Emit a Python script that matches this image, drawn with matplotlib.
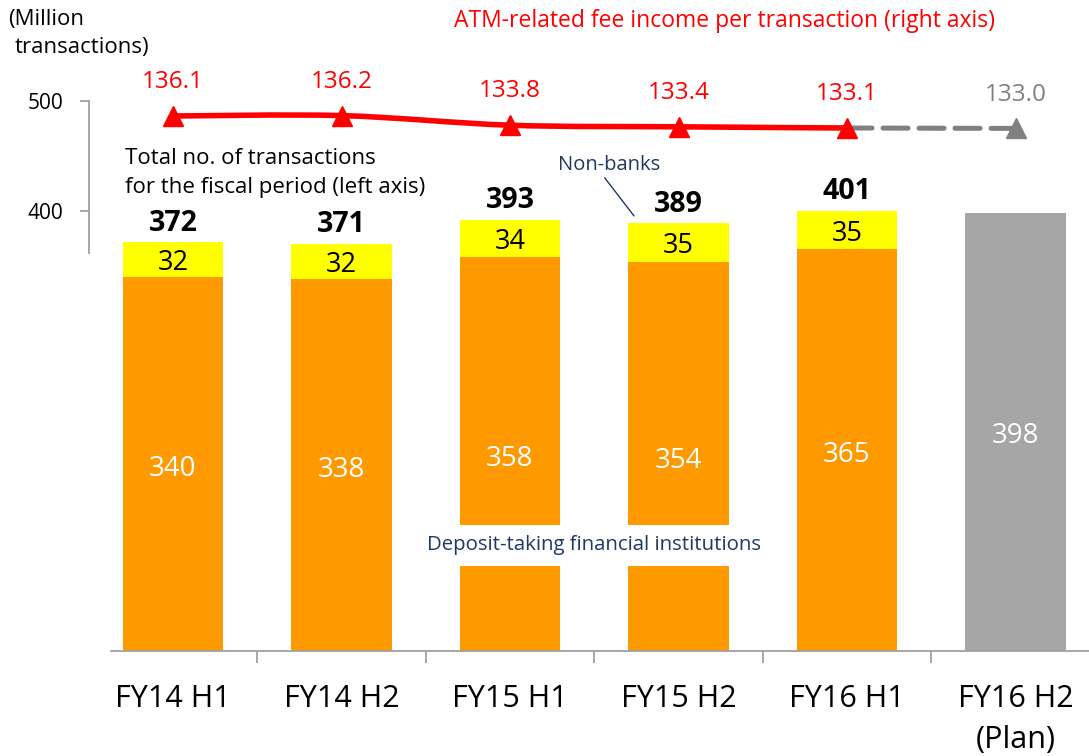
import matplotlib
matplotlib.use('Agg')
import matplotlib.pyplot as plt
from matplotlib.path import Path
from matplotlib.patches import PathPatch
import numpy as np

categories = ['FY14 H1', 'FY14 H2', 'FY15 H1', 'FY15 H2', 'FY16 H1', 'FY16 H2\n(Plan)']
deposit_taking = [340, 338, 358, 354, 365]
non_banks = [32, 32, 34, 35, 35]
totals = [372, 371, 393, 389, 401]
plan_total = [398]
fee_actual = [136.1, 136.2, 133.8, 133.4, 133.1]
fee_plan = [133.1, 133.0]

plt.rcParams['font.family'] = ['Open Sans', 'DejaVu Sans']

ORANGE = '#FF9900'
YELLOW = '#FFFF00'
GRAY = '#A6A6A6'
DGRAY = '#808080'
NAVY = '#1F3864'
AXGRAY = '#A0A0A0'

W, H = 1089, 756
fig = plt.figure(figsize=(W / 100, H / 100), dpi=100)
ax = fig.add_axes([111 / W, (H - 651) / H, 1 - 111 / W, 550 / H])

x = np.arange(len(categories))
xa = x[:5]
bw = 0.594
ax.bar(xa, deposit_taking, bw, color=ORANGE, zorder=2)
ax.bar(xa, non_banks, bw, bottom=deposit_taking, color=YELLOW, zorder=2)
ax.bar(x[5:], plan_total, bw, color=GRAY, zorder=2)

ax.set_xlim(-0.368, 5.436)
ax.set_ylim(0, 500)

# bar labels
for xi, d, n, t in zip(xa, deposit_taking, non_banks, totals):
    ax.annotate(f'{d}', xy=(xi, d / 2), xytext=(0, -3.5), textcoords='offset points',
                ha='center', va='center', color='white', fontsize=20, zorder=4)
    ax.annotate(f'{n}', xy=(xi, d + n / 2), xytext=(0, -2.5), textcoords='offset points',
                ha='center', va='center', color='black', fontsize=19.5, zorder=4)
    ax.annotate(f'{t}', xy=(xi, t), xytext=(0, 8), textcoords='offset points',
                ha='center', va='baseline', fontsize=20.5, fontweight='bold', color='black')
for xi, p in zip(x[5:], plan_total):
    ax.annotate(f'{p}', xy=(xi, p / 2), xytext=(0, -2.5), textcoords='offset points',
                ha='center', va='center', color='white', fontsize=20, zorder=4)

# spines / ticks
for s in ['top', 'right']:
    ax.spines[s].set_visible(False)
ax.spines['left'].set_position(('outward', 15.84))
ax.spines['left'].set_bounds(362, 500)
ax.spines['left'].set_color(AXGRAY)
ax.spines['left'].set_linewidth(1.3)
ax.spines['bottom'].set_color(AXGRAY)
ax.spines['bottom'].set_linewidth(1.3)
ax.set_yticks([400, 500])
ax.tick_params(axis='y', length=6.5, width=1.3, color=AXGRAY, labelsize=15, pad=12, labelcolor='black')
ax.set_xticks(x)
ax.set_xticklabels(categories)
ax.tick_params(axis='x', which='major', length=0, labelsize=22, pad=24)
ax.set_xticks(x[:-1] + 0.5, minor=True)
ax.tick_params(axis='x', which='minor', length=8.6, width=1.3, color=AXGRAY, direction='out')
for lab in ax.get_xticklabels():
    lab.set_linespacing(1.45)

# deposit-taking label with white box
ax.text((x[2] + x[3]) / 2, 96, 'Deposit-taking financial institutions', ha='center', va='center',
        fontsize=14.7, color=NAVY, zorder=6,
        bbox=dict(boxstyle='square,pad=0.5', fc='white', ec='none'))

# non-banks annotation
ax.annotate('Non-banks', xy=(x[3] - 0.264, totals[3] + 6.5), xytext=((558 - 173) / 168.5, (651 - 165) / 1.1),
            ha='left', va='center', fontsize=14.5, color=NAVY, zorder=6,
            arrowprops=dict(arrowstyle='-', color=NAVY, lw=1, relpos=(0.39, 0.3), shrinkA=0, shrinkB=0))

# right axis line
ax2 = ax.twinx()
ax2.set_ylim(2.35, 139.85)
for s in ax2.spines.values():
    s.set_visible(False)
ax2.set_yticks([])
ax2.plot(x[4:], fee_plan, color=DGRAY, lw=3.6, ls=(0, (5, 2.2)), dash_capstyle='round',
         marker='^', ms=15, markevery=[1], zorder=3)

# smoothed line (Excel-style smoothing) through the actual points
P = np.column_stack([xa.astype(float), np.array(fee_actual)])
verts = [P[0]]
codes = [Path.MOVETO]
for i in range(len(P) - 1):
    p0 = P[i - 1] if i > 0 else P[i]
    p3 = P[i + 2] if i + 2 < len(P) else P[i + 1]
    c1 = P[i] + (P[i + 1] - p0) / 6
    c2 = P[i + 1] - (p3 - P[i]) / 6
    verts += [c1, c2, P[i + 1]]
    codes += [Path.CURVE4] * 3
ax2.add_patch(PathPatch(Path(verts, codes), fc='none', ec='#FF0000', lw=4, zorder=4, capstyle='round'))
ax2.plot(xa, fee_actual, ls='none', color='#FF0000', marker='^', ms=15, zorder=5)
for xi, v in zip(xa, fee_actual):
    ax2.annotate(f'{v:.1f}', xy=(xi, v), xytext=(0, 20), textcoords='offset points',
                 ha='center', va='baseline', fontsize=17.5, color='#FF0000')
ax2.annotate(f'{fee_plan[1]:.1f}', xy=(x[5], fee_plan[1]), xytext=(0, 20), textcoords='offset points',
             ha='center', va='baseline', fontsize=17.5, color=DGRAY)

# texts
fig.text(8 / W, 1 - 20 / H, '(Million', ha='left', va='center', fontsize=16)
fig.text(15 / W, 1 - 48 / H, 'transactions)', ha='left', va='center', fontsize=16)
fig.text(725 / W, 1 - 21 / H, 'ATM-related fee income per transaction (right axis)', ha='center', va='center',
         fontsize=16.5, color='#FF0000')
fig.text(125 / W, 1 - 159 / H, 'Total no. of transactions', ha='left', va='center', fontsize=16)
fig.text(125 / W, 1 - 188 / H, 'for the fiscal period (left axis)', ha='left', va='center', fontsize=16)

fig.savefig('out.png', dpi=100)
